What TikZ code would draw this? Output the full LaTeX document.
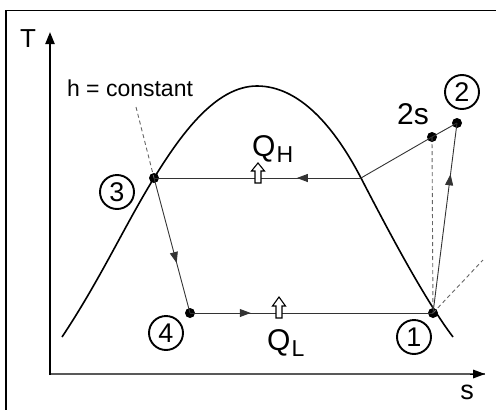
\documentclass[tikz,border=0pt]{standalone}
\usepackage{fontspec}
\setmainfont{Liberation Sans}
\usetikzlibrary{arrows.meta,decorations.markings}
\begin{document}
\begin{tikzpicture}[x=1pt,y=-1pt,
  dot/.style={circle,fill=black,inner sep=0pt,minimum size=10pt},
  numcirc/.style={circle,draw,line width=1.9pt,minimum size=34pt,inner sep=0pt,font=\fontsize{27}{27}\selectfont},
  cyc/.style={line width=0.9pt,black!80},
  dsh/.style={line width=0.9pt,black!60,dash pattern=on 4pt off 3pt},
  midarrow/.style={postaction={decorate},decoration={markings,mark=at position #1 with {\arrow{Triangle[length=11pt,width=8pt]}}}},
  hollow/.style={line width=1.1pt,fill=white,draw=black},
  lbl/.style={inner sep=0pt},
  qlbl/.style={inner sep=0pt,anchor=base west,font=\fontsize{30}{30}\selectfont}
]
\useasboundingbox (0,0) rectangle (496,410);
% frame
\draw[line width=1.6pt] (6,420) -- (6,10.5) -- (505,10.5);
% axes
\coordinate (o) at (50,374);
\coordinate (ty) at (50,32);
\coordinate (sx) at (485,374);
\draw[line width=1.4pt,black!65] (o) -- (sx);
\draw[line width=0pt,-{Triangle[length=12pt,width=9pt]}] (470,374) -- (sx);
\draw[line width=2.2pt,-{Triangle[length=12pt,width=9pt]}] (50,375) -- (ty);
\node[lbl,font=\fontsize{26}{26}\selectfont] (lT) at (28,39) {T};
\node[lbl,font=\fontsize{27}{27}\selectfont] (ls) at (467,392) {s};
% dome
\draw[line width=1.6pt] (62,337) .. controls (100,280) and (125,225) .. (154,178)
  .. controls (180,136) and (215,86) .. (257,86)
  .. controls (300,86) and (335,128) .. (361,178)
  .. controls (390,234) and (425,300) .. (453,337);
% points
\node[dot] (p1) at (433,313) {};
\node[dot] (p2) at (457,123) {};
\node[dot] (p2s) at (432,137) {};
\node[dot] (p3) at (154,178) {};
\node[dot] (p4) at (190,313) {};
\coordinate (pi) at (361,178);
\coordinate (hc) at (136,107);
\coordinate (d1) at (483,260);
% dashed lines
\draw[dsh] (hc) -- (p3.center);
\draw[dsh] (p2s.center) -- (p1.center);
\draw[dsh] (p1.center) -- (d1);
% cycle
\draw[cyc] (p2.center) -- (p2s.center) -- (pi);
\draw[cyc,midarrow=0.31] (pi) -- (p3.center);
\draw[cyc,midarrow=0.63] (p3.center) -- (p4.center);
\draw[cyc,midarrow=0.25] (p4.center) -- (p1.center);
\draw[cyc,midarrow=0.73] (p1.center) -- (p2.center);
% hollow arrows
\draw[hollow] (255,183) -- (261,183) -- (261,171) -- (264.5,171) -- (258,163) -- (251.5,171) -- (255,171) -- cycle;
\draw[hollow] (276,318) -- (282,318) -- (282,306) -- (285.5,306) -- (279,297) -- (272.5,306) -- (276,306) -- cycle;
% labels
\node[qlbl] (qh) at (252,156) {Q\hspace{1pt}\raisebox{-6pt}{\fontsize{23}{23}\selectfont H}};
\node[qlbl] (ql) at (267,350) {Q\hspace{1pt}\raisebox{-6pt}{\fontsize{23}{23}\selectfont L}};
\node[lbl,font=\fontsize{23}{23}\selectfont] (hl) at (130,88) {h = constant};
\node[lbl,font=\fontsize{30}{30}\selectfont] (l2s) at (413,114) {2s};
\node[numcirc] (c1) at (414,337) {1};
\node[numcirc] (c2) at (462,92) {2};
\node[numcirc] (c3) at (117,192) {3};
\node[numcirc] (c4) at (166,333) {4};
\end{tikzpicture}
\end{document}
